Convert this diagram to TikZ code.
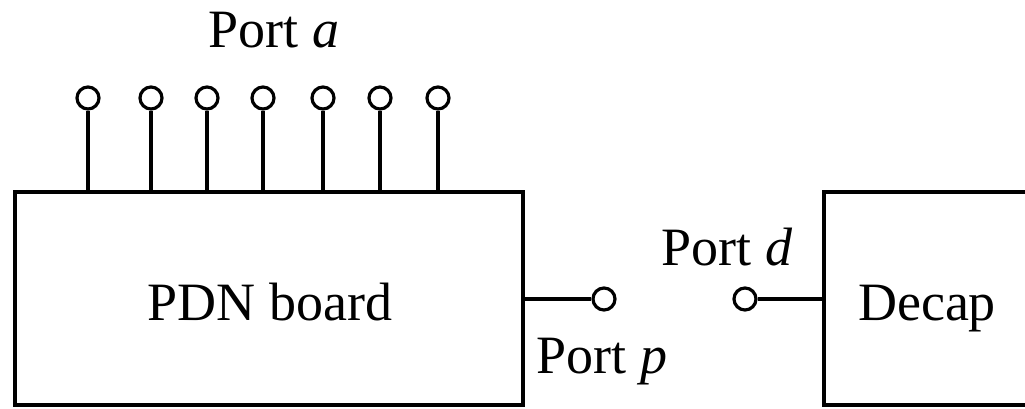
\documentclass[tikz,border=0pt]{standalone}
\usepackage{fontspec}
\setmainfont{Liberation Serif}
\begin{document}
\begin{tikzpicture}[x=1pt,y=-1pt,
  line width=3.2pt,
  lbl/.style={font=\fontsize{54}{62}\selectfont, inner sep=0pt, anchor=base},
  pin/.style={circle, draw, minimum size=22pt, inner sep=0pt, fill=white},
  blk/.style={draw, rectangle, inner sep=0pt}]
\useasboundingbox (0,0) rectangle (1025,408);
\clip (0,0) rectangle (1025,408);
% blocks
\node[blk, minimum width=508pt, minimum height=213pt] (pdn) at (269,298.5) {};
\node[lbl] (pdnt) at (270,320) {PDN board};
\node[blk, minimum width=300pt, minimum height=213pt] (dec) at (974,298.5) {};
\node[lbl] (dect) at (927,320) {Decap};
% top pins
\foreach \i/\x in {1/88,2/151,3/207,4/263,5/323,6/380,7/438}{
  \coordinate (b\i) at (\x,192);
  \node[pin] (a\i) at (\x,98) {};
  \draw (a\i.south) -- (b\i);
}
\node[lbl] (porta) at (274,47) {Port \textit{a}};
% port p
\coordinate (pp0) at (523,299);
\node[pin] (pp) at (604,299) {};
\draw (pp0) -- (pp.west);
\node[lbl] (portp) at (602,373) {Port \textit{p}};
% port d
\coordinate (pd0) at (824,299);
\node[pin] (pd) at (745,299) {};
\draw (pd.east) -- (pd0);
\node[lbl] (portd) at (727,265) {Port \textit{d}};
\end{tikzpicture}
\end{document}
